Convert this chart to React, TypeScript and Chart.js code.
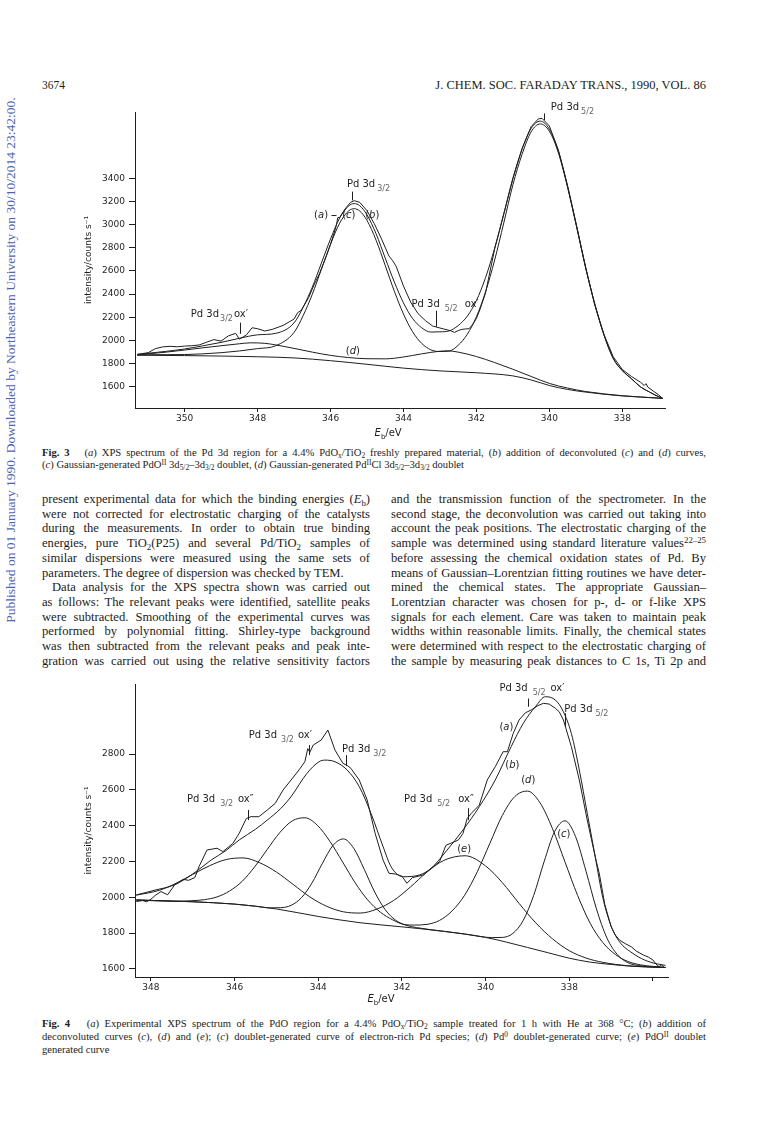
import React, { useEffect, useRef } from "react";
import { Chart, registerables } from "chart.js";

Chart.register(...registerables);

/* ------------------------------------------------------------------ */
/*  Fig. 3                            */
/* ------------------------------------------------------------------ */
const fig3XTicks = [350, 348, 346, 344, 342, 340, 338];
const fig3XLabels = [350, 348, 346, 344, 342, 340, 338];
const fig3YTicks = [1600, 1800, 2000, 2200, 2400, 2600, 2800, 3000, 3200, 3400];

// (a) experimental spectrum
const fig3ExpEnergy = [351.3, 351.0, 350.8, 350.6, 350.4, 350.2, 350.0, 349.8, 349.6, 349.4, 349.2, 349.0, 348.8, 348.6, 348.5, 348.4, 348.3, 348.15, 348.0, 347.8, 347.6, 347.3, 347.0, 346.9, 346.8, 346.6, 346.45, 346.3, 346.1, 346.0, 345.85, 345.8, 345.75, 345.6, 345.45, 345.35, 345.2, 345.0, 344.8, 344.6, 344.4, 344.3, 344.2, 344.0, 343.8, 343.6, 343.4, 343.2, 343.0, 342.9, 342.8, 342.7, 342.6, 342.5, 342.4, 342.3, 342.2, 342.1, 342.0, 341.9, 341.75, 341.5, 341.25, 341.0, 340.75, 340.5, 340.3, 340.2, 340.0, 339.75, 339.5, 339.25, 339.0, 338.75, 338.5, 338.25, 338.0, 337.75, 337.5, 337.4, 337.35, 337.3, 337.0, 336.9];
const fig3ExpCounts = [1880, 1895, 1930, 1945, 1950, 1946, 1952, 1955, 1962, 1985, 2008, 1995, 2040, 2062, 2012, 2030, 2050, 2110, 2102, 2082, 2096, 2130, 2185, 2240, 2262, 2370, 2480, 2580, 2740, 2830, 2980, 3060, 3062, 3135, 3192, 3206, 3192, 3120, 3008, 2875, 2730, 2690, 2640, 2470, 2330, 2232, 2172, 2125, 2108, 2100, 2092, 2084, 2070, 2086, 2096, 2100, 2102, 2140, 2190, 2270, 2410, 2790, 3090, 3395, 3655, 3845, 3912, 3916, 3850, 3640, 3330, 2980, 2620, 2300, 2050, 1860, 1750, 1690, 1640, 1612, 1628, 1598, 1530, 1500];

// energy grid of the fitted curves
const fig3FitEnergy = [351.3, 350.5, 350, 349.5, 349, 348.5, 348, 347.5, 347, 346.75, 346.5, 346.25, 346, 345.75, 345.5, 345.35, 345.2, 345, 344.75, 344.5, 344.25, 344, 343.75, 343.5, 343.25, 343, 342.75, 342.5, 342.25, 342, 341.75, 341.5, 341.25, 341, 340.75, 340.5, 340.25, 340, 339.75, 339.5, 339.25, 339, 338.75, 338.5, 338.25, 338, 337.75, 337.5, 337.25, 337, 336.9];
// (b) sum of (c) and (d)
const fig3SumCounts = [1880, 1907, 1927, 1954, 1984, 2019, 2049, 2062, 2152, 2287, 2460, 2668, 2875, 3056, 3162, 3181, 3163, 3084, 2920, 2711, 2504, 2325, 2190, 2110, 2073, 2075, 2083, 2129, 2210, 2345, 2542, 2796, 3093, 3400, 3648, 3830, 3892, 3823, 3630, 3332, 2984, 2625, 2311, 2047, 1847, 1742, 1671, 1600, 1555, 1515, 1505];
// (c) PdO(II) doublet
const fig3PdOCounts = [1877, 1878, 1879, 1885, 1895, 1910, 1930, 1955, 2070, 2215, 2398, 2614, 2829, 3012, 3119, 3137, 3117, 3036, 2865, 2647, 2425, 2229, 2076, 1975, 1920, 1905, 1909, 1959, 2054, 2205, 2420, 2694, 3014, 3343, 3605, 3800, 3868, 3805, 3615, 3320, 2975, 2620, 2308, 2044, 1845, 1740, 1670, 1600, 1555, 1515, 1505];

// (d) Pd(II)Cl doublet
const fig3PdClEnergy = [351.3, 350.5, 350, 349.5, 349, 348.5, 348.2, 347.8, 347.5, 347, 346.5, 346, 345.5, 345, 344.5, 344, 343.5, 343, 342.8, 342.5, 342, 341.5, 341, 340.5, 340, 339.5, 339, 338, 337, 336.9];
const fig3PdClCounts = [1876, 1900, 1918, 1937, 1955, 1972, 1980, 1976, 1962, 1932, 1900, 1872, 1853, 1843, 1842, 1858, 1885, 1908, 1911, 1900, 1862, 1810, 1752, 1690, 1630, 1590, 1560, 1524, 1503, 1500];

// Shirley-type background
const fig3BgEnergy = [351.3, 350, 349, 348, 347, 346, 345, 344, 343, 342, 341, 340.5, 340, 339.5, 339, 338, 337, 336.9];
const fig3BgCounts = [1873, 1870, 1866, 1860, 1850, 1826, 1795, 1762, 1738, 1722, 1695, 1660, 1612, 1578, 1555, 1522, 1503, 1500];

/* ------------------------------------------------------------------ */
/*  Fig. 4                            */
/* ------------------------------------------------------------------ */
const fig4XTicks = [348, 346, 344, 342, 340, 338, 336];
const fig4XLabels = [348, 346, 344, 342, 340, 338];
const fig4YTicks = [1600, 1800, 2000, 2200, 2400, 2600, 2800];

// (a) experimental
const fig4ExpEnergy = [348.35, 348.2, 348.1, 348.0, 347.9, 347.76, 347.6, 347.43, 347.23, 347.1, 346.95, 346.85, 346.66, 346.42, 346.28, 346.04, 345.89, 345.72, 345.61, 345.42, 345.22, 345.03, 344.84, 344.65, 344.46, 344.32, 344.25, 344.2, 344.12, 343.93, 343.77, 343.6, 343.41, 343.3, 343.22, 343.02, 342.83, 342.64, 342.45, 342.31, 342.15, 342.0, 341.88, 341.75, 341.6, 341.49, 341.4, 341.3, 341.1, 340.95, 340.8, 340.65, 340.54, 340.44, 340.34, 340.15, 339.96, 339.77, 339.58, 339.48, 339.34, 339.2, 339.05, 338.91, 338.75, 338.62, 338.48, 338.33, 338.24, 338.14, 337.95, 337.76, 337.57, 337.38, 337.28, 337.15, 337.0, 336.9, 336.8, 336.65, 336.52, 336.4, 336.23, 336.1, 336.0, 335.9, 335.85, 335.8, 335.72];
const fig4ExpCounts = [1976, 1982, 1975, 1989, 2010, 2032, 2014, 2070, 2100, 2095, 2110, 2171, 2264, 2274, 2255, 2301, 2357, 2440, 2450, 2450, 2487, 2524, 2599, 2655, 2711, 2757, 2830, 2810, 2850, 2878, 2934, 2822, 2748, 2735, 2720, 2655, 2543, 2357, 2208, 2134, 2130, 2118, 2078, 2110, 2118, 2125, 2143, 2162, 2199, 2290, 2305, 2320, 2357, 2440, 2469, 2515, 2655, 2729, 2813, 2813, 2915, 2990, 3030, 3046, 3070, 3083, 3079, 3055, 3036, 2990, 2841, 2655, 2431, 2227, 2130, 1960, 1836, 1790, 1761, 1740, 1724, 1700, 1678, 1665, 1650, 1620, 1612, 1625, 1605];

// (b) sum of deconvoluted curves
const fig4SumEnergy = [348.35, 347.9, 347.43, 347.0, 346.56, 346.2, 345.89, 345.5, 345.22, 344.9, 344.65, 344.27, 343.98, 343.84, 343.6, 343.31, 343.02, 342.74, 342.45, 342.26, 341.97, 341.59, 341.3, 340.92, 340.54, 340.15, 339.77, 339.39, 339.1, 338.81, 338.57, 338.33, 338.14, 337.95, 337.76, 337.57, 337.38, 337.2, 337.0, 336.8, 336.5, 336.2, 335.9, 335.7];
const fig4SumCounts = [2013, 2040, 2070, 2130, 2208, 2262, 2320, 2380, 2431, 2495, 2562, 2692, 2757, 2766, 2757, 2711, 2618, 2469, 2283, 2171, 2115, 2124, 2162, 2264, 2376, 2506, 2655, 2841, 2971, 3064, 3120, 3101, 3036, 2915, 2711, 2469, 2227, 2000, 1840, 1752, 1690, 1650, 1628, 1620];

// (c) electron-rich Pd doublet
const fig4CEnergy = [348.35, 347, 346, 345.5, 345.15, 344.9, 344.65, 344.4, 344.15, 343.9, 343.65, 343.4, 343.15, 342.9, 342.65, 342.4, 342.15, 341.9, 341.65, 341, 340.5, 340, 339.85, 339.6, 339.35, 339.1, 338.85, 338.6, 338.35, 338.1, 337.85, 337.6, 337.35, 337.1, 336.85, 336.6, 336.35, 335.7];
const fig4CCounts = [1985, 1975, 1962, 1950, 1941, 1942, 1955, 1998, 2080, 2190, 2289, 2326, 2273, 2156, 2029, 1931, 1872, 1844, 1831, 1810, 1795, 1777, 1775, 1776, 1798, 1871, 2011, 2200, 2367, 2427, 2339, 2146, 1935, 1773, 1680, 1635, 1619, 1608];

// (d) Pd(0) doublet
const fig4DEnergy = [348.35, 347.5, 347.02, 346.72, 346.42, 346.12, 345.82, 345.52, 345.22, 344.92, 344.62, 344.32, 344.02, 343.72, 343.42, 343.12, 342.82, 342.52, 342.22, 341.92, 341.7, 341.4, 341.1, 340.8, 340.5, 340.2, 339.9, 339.6, 339.3, 339.0, 338.7, 338.4, 338.1, 337.8, 337.5, 337.2, 336.9, 336.6, 336.3, 335.7];
const fig4DCounts = [1985, 1978, 1981, 1987, 2002, 2035, 2089, 2170, 2267, 2361, 2427, 2444, 2402, 2312, 2198, 2082, 1986, 1918, 1874, 1847, 1845, 1849, 1871, 1924, 2012, 2142, 2300, 2457, 2563, 2593, 2528, 2383, 2196, 2010, 1855, 1748, 1681, 1642, 1623, 1608];

// (e) PdO(II) doublet
const fig4EEnergy = [348.35, 347.8, 347.4, 347.0, 346.6, 346.2, 345.8, 345.4, 345.0, 344.6, 344.2, 343.8, 343.4, 343.0, 342.6, 342.2, 341.8, 341.4, 341.0, 340.49, 340.0, 339.6, 339.2, 338.8, 338.4, 338.0, 337.6, 337.2, 336.6, 335.7];
const fig4ECounts = [2012, 2039, 2078, 2128, 2176, 2211, 2220, 2193, 2141, 2072, 2002, 1950, 1919, 1912, 1934, 1982, 2057, 2141, 2206, 2232, 2175, 2082, 1966, 1857, 1768, 1702, 1661, 1637, 1618, 1608];

// background
const fig4BgEnergy = [348.35, 347, 346, 345, 344, 343, 342, 341, 340, 339, 338.5, 338, 337.5, 337, 336.5, 336, 335.7];
const fig4BgCounts = [1985, 1975, 1962, 1935, 1893, 1858, 1835, 1810, 1776, 1720, 1690, 1660, 1638, 1625, 1615, 1610, 1608];

/* ------------------------------------------------------------------ */
/*  annotations (label anchors in data units)                          */
/* ------------------------------------------------------------------ */
type Part = { t: string; sub?: boolean; it?: boolean; gap?: number };
type Note = { x: number; y: number; parts: Part[] };
type Seg = { x1: number; y1: number; x2: number; y2: number };

const tag = (l: string): Part[] => [{ t: "(" }, { t: l, it: true }, { t: ")" }];

const fig3Notes: Note[] = [
  { x: 339.96, y: 3988, parts: [{ t: "Pd 3d" }, { t: "5/2", sub: true, gap: 2 }] },
  { x: 345.55, y: 3321, parts: [{ t: "Pd 3d" }, { t: "3/2", sub: true, gap: 2 }] },
  { x: 346.45, y: 3053, parts: tag("a") },
  { x: 345.68, y: 3053, parts: tag("c") },
  { x: 345.05, y: 3053, parts: tag("b") },
  { x: 349.83, y: 2200, parts: [{ t: "Pd 3d" }, { t: "3/2", sub: true, gap: 1 }, { t: "ox′", gap: 1 }] },
  { x: 343.78, y: 2286, parts: [{ t: "Pd 3d" }, { t: "5/2", sub: true, gap: 5 }, { t: "ox′", gap: 7 }] },
  { x: 345.58, y: 1885, parts: tag("d") },
];
const fig3Segs: Seg[] = [
  { x1: 340.15, y1: 3959, x2: 340.15, y2: 3901 },
  { x1: 345.42, y1: 3284, x2: 345.42, y2: 3209 },
  { x1: 345.98, y1: 3078, x2: 345.86, y2: 3078 },
  { x1: 348.47, y1: 2154, x2: 348.47, y2: 2058 },
  { x1: 343.11, y1: 2257, x2: 343.11, y2: 2119 },
];

const fig4Notes: Note[] = [
  { x: 345.66, y: 2887, parts: [{ t: "Pd 3d" }, { t: "3/2", sub: true, gap: 4 }, { t: "ox′", gap: 4 }] },
  { x: 343.43, y: 2813, parts: [{ t: "Pd 3d" }, { t: "3/2", sub: true, gap: 3 }] },
  { x: 347.14, y: 2534, parts: [{ t: "Pd 3d" }, { t: "3/2", sub: true, gap: 5 }, { t: "ox″", gap: 5 }] },
  { x: 341.95, y: 2534, parts: [{ t: "Pd 3d" }, { t: "5/2", sub: true, gap: 5 }, { t: "ox″", gap: 8 }] },
  { x: 339.67, y: 3153, parts: [{ t: "Pd 3d" }, { t: "5/2", sub: true, gap: 5 }, { t: "ox′", gap: 5 }] },
  { x: 338.12, y: 3036, parts: [{ t: "Pd 3d" }, { t: "5/2", sub: true, gap: 3 }] },
  { x: 339.67, y: 2934, parts: tag("a") },
  { x: 339.53, y: 2723, parts: tag("b") },
  { x: 339.15, y: 2636, parts: tag("d") },
  { x: 338.29, y: 2339, parts: tag("c") },
  { x: 340.68, y: 2255, parts: tag("e") },
];
const fig4Segs: Seg[] = [
  { x1: 344.22, y1: 2850, x2: 344.22, y2: 2794 },
  { x1: 343.33, y1: 2794, x2: 343.33, y2: 2733 },
  { x1: 345.67, y1: 2488, x2: 345.67, y2: 2431 },
  { x1: 340.42, y1: 2497, x2: 340.42, y2: 2431 },
  { x1: 338.99, y1: 3110, x2: 338.99, y2: 3064 },
  { x1: 338.1, y1: 3027, x2: 338.1, y2: 2953 },
];

/* ------------------------------------------------------------------ */
const INK = "#1e1e1e";
const SANS = '"DejaVu Sans", "Liberation Sans", sans-serif';

type Series = { e: number[]; c: number[]; smooth: boolean };

interface FigProps {
  left: number; top: number; width: number; height: number;
  yAxisW: number; xAxisH: number; padTop: number; padRight: number; titleOffset: number;
  xMin: number; xMax: number; yMin: number; yMax: number;
  xTicks: number[]; xLabels: number[]; yTicks: number[];
  series: Series[]; notes: Note[]; segs: Seg[];
  xTitleAt: number; xTitleDy: number;
}

function XpsFigure(p: FigProps) {
  const ref = useRef<HTMLCanvasElement>(null);
  useEffect(() => {
    const canvas = ref.current;
    if (!canvas) return;
    const font = (size: number) => ({ family: SANS, size });
    const annot = {
      id: "annot",
      afterDatasetsDraw(chart: any) {
        const { ctx, scales, chartArea } = chart;
        const xs = scales.x, ys = scales.y;
        ctx.save();
        ctx.strokeStyle = INK;
        ctx.lineWidth = 1;
        for (const s of p.segs) {
          ctx.beginPath();
          ctx.moveTo(Math.round(xs.getPixelForValue(s.x1)) + 0.5, ys.getPixelForValue(s.y1));
          ctx.lineTo(Math.round(xs.getPixelForValue(s.x2)) + 0.5, ys.getPixelForValue(s.y2));
          ctx.stroke();
        }
        ctx.textBaseline = "alphabetic";
        ctx.textAlign = "left";
        for (const n of p.notes) {
          let cx = xs.getPixelForValue(n.x);
          const by = ys.getPixelForValue(n.y);
          for (const part of n.parts) {
            cx += part.gap ?? 0;
            ctx.font = `${part.it ? "italic " : ""}${part.sub ? 8 : 10}px ${SANS}`;
            ctx.fillStyle = part.sub ? "#666" : INK;
            ctx.fillText(part.t, cx, by + (part.sub ? 4 : 0));
            cx += ctx.measureText(part.t).width;
          }
        }
        // x-axis title  E_b/eV
        const pieces: Part[] = [{ t: "E", it: true }, { t: "b", sub: true }, { t: "/eV" }];
        let total = 0;
        const widths = pieces.map((pc) => {
          ctx.font = `${pc.it ? "italic " : ""}${pc.sub ? 7 : 10}px ${SANS}`;
          const w = ctx.measureText(pc.t).width;
          total += w;
          return w;
        });
        let tx = xs.getPixelForValue(p.xTitleAt) - total / 2;
        const ty = chartArea.bottom + p.xTitleDy;
        pieces.forEach((pc, i) => {
          ctx.font = `${pc.it ? "italic " : ""}${pc.sub ? 7 : 10}px ${SANS}`;
          ctx.fillStyle = INK;
          ctx.fillText(pc.t, tx, ty + (pc.sub ? 3 : 0));
          tx += widths[i];
        });
        ctx.restore();
      },
    };
    const chart = new Chart(canvas, {
      type: "line",
      data: {
        datasets: p.series.map((s) => ({
          data: s.e.map((x, i) => ({ x, y: s.c[i] })),
          borderColor: INK,
          borderWidth: 1,
          pointRadius: 0,
          fill: false,
          tension: s.smooth ? 0.4 : 0,
          cubicInterpolationMode: s.smooth ? "monotone" : "default",
        })),
      } as any,
      options: {
        animation: false,
        responsive: false,
        events: [],
        layout: { padding: { left: 0, right: p.padRight, top: p.padTop, bottom: 0 } },
        plugins: { legend: { display: false }, tooltip: { enabled: false } },
        scales: {
          x: {
            type: "linear",
            reverse: true,
            min: p.xMin,
            max: p.xMax,
            afterBuildTicks: (a: any) => { a.ticks = p.xTicks.map((v) => ({ value: v })); },
            afterFit: (a: any) => { a.height = p.xAxisH; },
            ticks: {
              autoSkip: false, maxRotation: 0, padding: 1, color: INK, font: font(9),
              callback: (v: any) => (p.xLabels.includes(Number(v)) ? String(v) : ""),
            },
            grid: { drawOnChartArea: false, drawTicks: true, tickLength: 4, tickColor: INK, tickWidth: 1 },
            border: { display: true, color: INK, width: 1 },
          },
          y: {
            type: "linear",
            min: p.yMin,
            max: p.yMax,
            afterBuildTicks: (a: any) => { a.ticks = p.yTicks.map((v) => ({ value: v })); },
            afterFit: (a: any) => { a.width = p.yAxisW; },
            ticks: { autoSkip: false, padding: 4, color: INK, font: font(9), callback: (v: any) => String(v) },
            grid: { drawOnChartArea: false, drawTicks: true, tickLength: 6, tickColor: INK, tickWidth: 1 },
            border: { display: true, color: INK, width: 1 },
            title: {
              display: true, text: "intensity/counts s⁻¹", color: INK, font: font(9),
              padding: { top: p.titleOffset, bottom: 0 },
            },
          },
        },
      } as any,
      plugins: [annot],
    });
    return () => chart.destroy();
  }, []);
  return (
    <canvas
      ref={ref}
      width={p.width}
      height={p.height}
      style={{ position: "absolute", left: p.left, top: p.top, width: p.width, height: p.height }}
    />
  );
}

/* ------------------------------------------------------------------ */
const subS: React.CSSProperties = { fontSize: "0.7em", position: "relative", top: "0.3em", lineHeight: 0 };
const supS: React.CSSProperties = { fontSize: "0.7em", position: "relative", top: "-0.45em", lineHeight: 0 };
const Sb = ({ c }: { c: string }) => <span style={subS}>{c}</span>;
const Sp = ({ c }: { c: string }) => <span style={supS}>{c}</span>;

const justify: React.CSSProperties = { textAlign: "justify", textAlignLast: "justify", whiteSpace: "nowrap" as any };

const leftLines: [React.ReactNode, boolean][] = [
  [<>present experimental data for which the binding energies (<i>E</i><Sb c="b" />)</>, true],
  [<>were not corrected for electrostatic charging of the catalysts</>, true],
  [<>during the measurements. In order to obtain true binding</>, true],
  [<>energies, pure TiO<Sb c="2" />(P25) and several Pd/TiO<Sb c="2" /> samples of</>, true],
  [<>similar dispersions were measured using the same sets of</>, true],
  [<>parameters. The degree of dispersion was checked by TEM.</>, false],
  [<><span style={{ display: "inline-block", width: 10 }} />Data analysis for the XPS spectra shown was carried out</>, true],
  [<>as follows: The relevant peaks were identified, satellite peaks</>, true],
  [<>were subtracted. Smoothing of the experimental curves was</>, true],
  [<>performed by polynomial fitting. Shirley-type background</>, true],
  [<>was then subtracted from the relevant peaks and peak inte-</>, true],
  [<>gration was carried out using the relative sensitivity factors</>, true],
];
const rightLines: [React.ReactNode, boolean][] = [
  [<>and the transmission function of the spectrometer. In the</>, true],
  [<>second stage, the deconvolution was carried out taking into</>, true],
  [<>account the peak positions. The electrostatic charging of the</>, true],
  [<>sample was determined using standard literature values<Sp c="22–25" /></>, true],
  [<>before assessing the chemical oxidation states of Pd. By</>, true],
  [<>means of Gaussian–Lorentzian fitting routines we have deter-</>, true],
  [<>mined the chemical states. The appropriate Gaussian–</>, true],
  [<>Lorentzian character was chosen for p-, d- or f-like XPS</>, true],
  [<>signals for each element. Care was taken to maintain peak</>, true],
  [<>widths within reasonable limits. Finally, the chemical states</>, true],
  [<>were determined with respect to the electrostatic charging of</>, true],
  [<>the sample by measuring peak distances to C 1s, Ti 2p and</>, true],
];

function Column({ left, width, lines }: { left: number; width: number; lines: [React.ReactNode, boolean][] }) {
  return (
    <div style={{ position: "absolute", left, top: 492, width, fontSize: 12.6, lineHeight: "14.7px" }}>
      {lines.map(([node, full], i) => (
        <div key={i} style={full ? justify : { whiteSpace: "nowrap" }}>{node}</div>
      ))}
    </div>
  );
}

export default function App() {
  const fig3: FigProps = {
    left: 40, top: 95, width: 660, height: 350,
    yAxisW: 95, xAxisH: 37, padTop: 17, padRight: 35, titleOffset: 43,
    xMin: 336.83, xMax: 351.36, yMin: 1418, yMax: 3971,
    xTicks: fig3XTicks, xLabels: fig3XLabels, yTicks: fig3YTicks,
    series: [
      { e: fig3ExpEnergy, c: fig3ExpCounts, smooth: false },
      { e: fig3FitEnergy, c: fig3SumCounts, smooth: true },
      { e: fig3FitEnergy, c: fig3PdOCounts, smooth: true },
      { e: fig3PdClEnergy, c: fig3PdClCounts, smooth: true },
      { e: fig3BgEnergy, c: fig3BgCounts, smooth: true },
    ],
    notes: fig3Notes, segs: fig3Segs, xTitleAt: 344.42, xTitleDy: 28,
  };
  const fig4: FigProps = {
    left: 40, top: 668, width: 660, height: 345,
    yAxisW: 95, xAxisH: 36, padTop: 16, padRight: 32, titleOffset: 43,
    xMin: 335.64, xMax: 348.38, yMin: 1555, yMax: 3191,
    xTicks: fig4XTicks, xLabels: fig4XLabels, yTicks: fig4YTicks,
    series: [
      { e: fig4ExpEnergy, c: fig4ExpCounts, smooth: false },
      { e: fig4SumEnergy, c: fig4SumCounts, smooth: true },
      { e: fig4CEnergy, c: fig4CCounts, smooth: true },
      { e: fig4DEnergy, c: fig4DCounts, smooth: true },
      { e: fig4EEnergy, c: fig4ECounts, smooth: true },
      { e: fig4BgEnergy, c: fig4BgCounts, smooth: true },
    ],
    notes: fig4Notes, segs: fig4Segs, xTitleAt: 342.5, xTitleDy: 25,
  };

  return (
    <div
      style={{
        position: "absolute", left: 0, top: 0, width: 768, height: 1128, overflow: "hidden",
        background: "#fff", color: "#1c1c1c", fontFamily: '"Liberation Serif", "Times New Roman", serif',
      }}
    >
      <div style={{ position: "absolute", left: 42, top: 79, fontSize: 11.5 }}>3674</div>
      <div style={{ position: "absolute", right: 62, top: 78, fontSize: 12.5 }}>
        J. CHEM. SOC. FARADAY TRANS., 1990, VOL. 86
      </div>

      <div
        style={{
          position: "absolute", left: 11, top: 360, whiteSpace: "nowrap", fontSize: 13.5, color: "#4b63b8",
          transform: "translate(-50%, -50%) rotate(-90deg)",
        }}
      >
        Published on 01 January 1990. Downloaded by Northeastern University on 30/10/2014 23:42:00.
      </div>

      <XpsFigure {...fig3} />

      <div style={{ position: "absolute", left: 42, top: 447, width: 664, fontSize: 10.6, lineHeight: "12px" }}>
        <div style={justify}>
          <b>Fig. 3</b>&nbsp;&nbsp; (<i>a</i>) XPS spectrum of the Pd 3d region for a 4.4% PdO<Sb c="x" />/TiO<Sb c="2" /> freshly
          prepared material, (<i>b</i>) addition of deconvoluted (<i>c</i>) and (<i>d</i>) curves,
        </div>
        <div style={{ whiteSpace: "nowrap" }}>
          (<i>c</i>) Gaussian-generated PdO<Sp c="II" /> 3d<Sb c="5/2" />–3d<Sb c="3/2" /> doublet, (<i>d</i>) Gaussian-generated
          Pd<Sp c="II" />Cl 3d<Sb c="5/2" />–3d<Sb c="3/2" /> doublet
        </div>
      </div>

      <Column left={42} width={328} lines={leftLines} />
      <Column left={391} width={315} lines={rightLines} />

      <XpsFigure {...fig4} />

      <div style={{ position: "absolute", left: 42, top: 1017, width: 664, fontSize: 10.6, lineHeight: "13px" }}>
        <div style={justify}>
          <b>Fig. 4</b>&nbsp;&nbsp; (<i>a</i>) Experimental XPS spectrum of the PdO region for a 4.4% PdO<Sb c="x" />/TiO<Sb c="2" /> sample
          treated for 1 h with He at 368 °C; (<i>b</i>) addition of
        </div>
        <div style={justify}>
          deconvoluted curves (<i>c</i>), (<i>d</i>) and (<i>e</i>); (<i>c</i>) doublet-generated curve of electron-rich Pd species;
          (<i>d</i>) Pd<Sp c="0" /> doublet-generated curve; (<i>e</i>) PdO<Sp c="II" /> doublet
        </div>
        <div style={{ whiteSpace: "nowrap" }}>generated curve</div>
      </div>
    </div>
  );
}
